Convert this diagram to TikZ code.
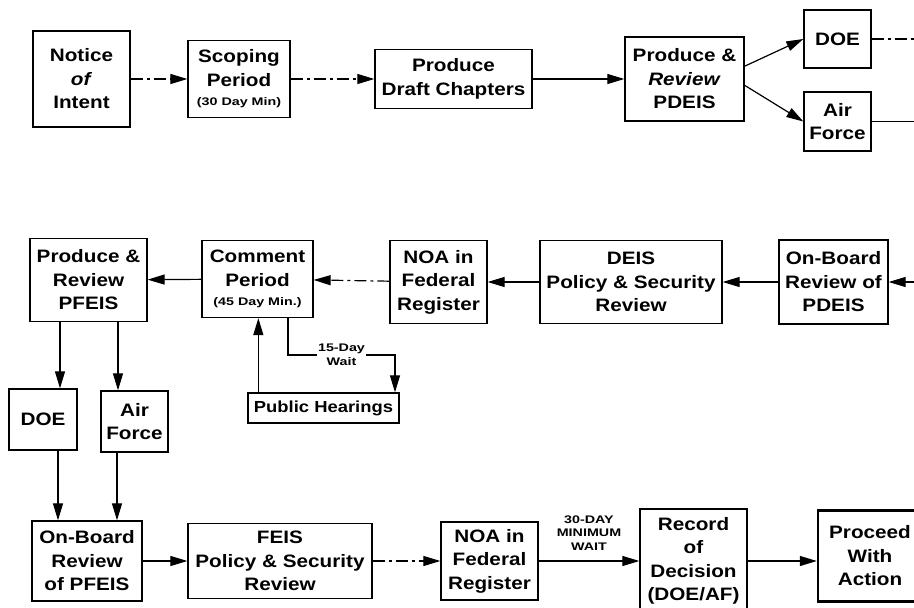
\documentclass[tikz,border=0pt]{standalone}
\usepackage{fontspec}
\setmainfont{Liberation Sans}[FakeStretch=1.15]
\newfontfamily\labelfont{Liberation Sans}[FakeStretch=1.3]
\usetikzlibrary{arrows.meta}
\tikzset{
    block/.style=
    { % Sets the properties for each box
        draw,
        line width=1.3pt,
        align=center,
        inner sep=2pt,
        font=\fontsize{18}{23.5}\selectfont\bfseries
    },
    heavy/.style={block, line width=2.4pt}, % Start and end boxes
    note/.style={align=center, font=\labelfont\fontsize{11}{13.5}\selectfont\bfseries},
    dashdot/.style={dash pattern=on 12pt off 4pt on 3pt off 4pt},
    link/.style={-{Triangle[length=17pt,width=10pt]}, line width=1.2pt},
    every edge/.style={ % Sets the properties for each connector
        draw,
        link
    }
}

\begin{document}
\begin{tikzpicture}[x=1pt,y=-1pt]
\useasboundingbox (0,0) rectangle (914,608);

% top row
\node [heavy,minimum width=97pt,minimum height=96pt]  (1) at (81.5,79) {Notice\\\textit{of}\\Intent};
\node [block,minimum width=102pt,minimum height=77pt] (2) at (239,79) {Scoping\\Period\\[-4pt]{\labelfont\fontsize{11}{12}\selectfont (30 Day Min)}};
\node [block,minimum width=157pt,minimum height=59pt] (3) at (453.5,79) {Produce\\Draft Chapters};
\node [block,minimum width=119pt,minimum height=84pt] (4) at (684.5,79) {Produce \&\\\textit{Review}\\PDEIS};
\node [block,minimum width=67pt,minimum height=58pt]  (5) at (837.5,39) {DOE};
\node [block,minimum width=67pt,minimum height=59pt]  (6) at (837.5,121.5) {Air\\Force};
\coordinate (r1) at (914,39);
\coordinate (r2) at (914,121.5);

% middle row
\node [block,minimum width=109pt,minimum height=84pt] (7) at (833.5,282) {On-Board\\Review of\\PDEIS};
\node [block,minimum width=182pt,minimum height=83pt] (8) at (631,282) {DEIS\\Policy \& Security\\Review};
\node [block,minimum width=97pt,minimum height=83pt]  (9) at (438.5,282) {NOA in\\Federal\\Register};
\node [block,minimum width=111pt,minimum height=77pt] (10) at (257.5,279) {Comment\\Period\\[-4pt]{\labelfont\fontsize{11}{12}\selectfont (45 Day Min.)}};
\node [block,minimum width=117pt,minimum height=83pt] (11) at (88.5,280) {Produce \&\\Review\\PFEIS};
\node [block,minimum width=151pt,minimum height=30pt,font=\fontsize{16}{18}\selectfont\bfseries] (12) at (323.5,408) {Public Hearings};
\node [block,minimum width=68pt,minimum height=61pt]  (13) at (43,419.5) {DOE};
\node [block,minimum width=67pt,minimum height=61pt]  (14) at (134.5,421.5) {Air\\Force};
\coordinate (r3) at (914,282);

% bottom row
\node [block,minimum width=110pt,minimum height=80pt]  (15) at (87,561) {On-Board\\Review\\of PFEIS};
\node [block,minimum width=184pt,minimum height=75pt]  (16) at (280,561) {FEIS\\Policy \& Security\\Review};
\node [block,minimum width=97pt,minimum height=78pt]   (17) at (489.5,561) {NOA in\\Federal\\Register};
\node [block,minimum width=107pt,minimum height=104pt] (18) at (693.5,561) {Record\\of\\Decision\\(DOE/AF)};
\node [heavy,minimum width=104pt,minimum height=91pt]  (19) at (870,556) {Proceed\\With\\Action};

% helper points for the vertical links
\coordinate (d1) at ([xshift=-28.5pt]11.south);
\coordinate (d2) at ([xshift=29.5pt]11.south);
\coordinate (d3) at ([xshift=15pt]13.south);
\coordinate (d4) at ([xshift=-17.5pt]14.south);
\coordinate (p1) at ([xshift=11pt]12.north west);
\coordinate (w1) at (288,355);
\coordinate (w2) at (395,355);

\draw
    (1) edge[dashdot] (2)
    (2) edge[dashdot] (3)
    (3) edge (4)
    (4.12) edge (5.west)
    (4.-6) edge (6.west)
    (5) edge[dashdot,-] (r1)
    (6) edge[-] (r2)

    (r3) edge (7)
    (7) edge (8)
    (8) edge (9)
    (9) edge[dashdot] (10)
    (10) edge (11)
    (p1) edge (p1 |- 10.south)
    (d1) edge (d1 |- 13.north)
    (d2) edge (d2 |- 14.north)
    (d3) edge (d3 |- 15.north)
    (d4) edge (d4 |- 15.north)

    (15) edge (16)
    (16) edge[dashdot] (17)
    (17) edge node[note,above=7pt] {30-DAY\\MINIMUM\\WAIT} (18)
    (18) edge (19.west |- 18.east);

\draw [link] (w1 |- 10.south) -- (w1)
    -- node[note,fill=white,inner sep=1pt] {15-Day\\Wait} (w2) -- (w2 |- 12.north);
\end{tikzpicture}
\end{document}
